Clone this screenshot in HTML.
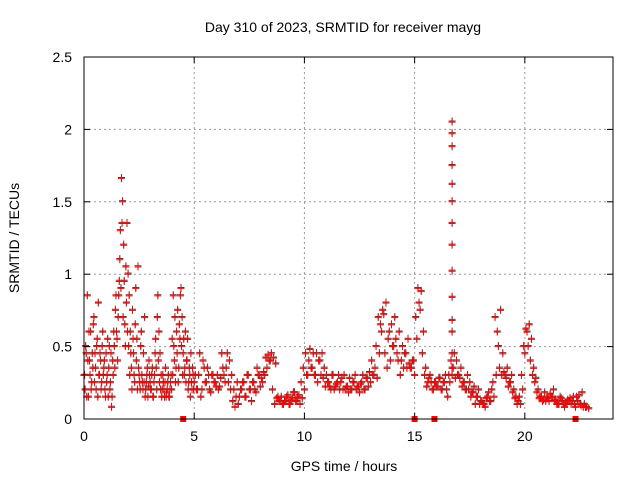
<!DOCTYPE html>
<html><head><meta charset="utf-8"><style>
body{margin:0;background:#fff}
svg text{font-family:"Liberation Sans",sans-serif;font-size:14px;fill:#000}
</style></head><body>
<svg width="640" height="480" id="c">
<rect width="640" height="480" fill="#fff"/>
<text x="343" y="32" text-anchor="middle">Day 310 of 2023, SRMTID for receiver mayg</text>
<text x="344" y="471" text-anchor="middle">GPS time / hours</text>
<text transform="translate(19,238) rotate(-90)" text-anchor="middle">SRMTID / TECUs</text>
<g id="grid"></g><g id="marks"></g>
<rect x="84" y="57" width="529" height="362" fill="none" stroke="#000" stroke-width="1"/>
<g id="ticks"></g>
</svg>
<script>
const xTicks=[0,5,10,15,20];
const yTicks=[0,0.5,1,1.5,2,2.5];
const yTickLabels=["0","0.5","1","1.5","2","2.5"];
const earlyA=[0.3,0.2,0.45,0.85,0.15,0.4,0.6,0.25,0.35,0.7,0.45,0.2,0.55,0.8,0.3,0.4,0.25,0.6,0.35,0.2,
0.45,0.3,0.15,0.5,0.25,0.08,0.4,0.6,0.35,0.85,0.55,0.7,0.95,1.3,1.66,1.5,1.2,0.65,1.05,1.35,
1.0,0.85,0.6,0.35,0.75,0.45,0.25,0.9,0.55,1.05,0.3,0.2,0.6,0.25,0.45,0.7,0.2,0.3,0.15,0.4,
0.25,0.2,0.35,0.15,0.3,0.55,0.2,0.85,0.6,0.45,0.3,0.2,0.25,0.15,0.35,0.18,0.25,0.15,0.2,0.3,
0.55,0.85,0.4,0.25,0.6,0.75,0.35,0.55,0.9,0.7,0.45,0.3,0.6,0.4,0.55,0.25,0.3,0.45,0.2,0.3,0.25];
const earlyB=[0.3,0.5,0.15,0.4,0.6,0.3,0.2,0.45,0.65,0.25,0.35,0.5,0.15,0.3,0.45,0.2,0.5,0.3,0.4,0.15,
0.25,0.55,0.35,0.2,0.45,0.15,0.3,0.5,0.75,0.6,0.4,0.85,1.1,0.9,1.35,0.7,0.95,0.5,0.8,0.6,
0.5,0.3,0.45,0.2,0.55,0.3,0.65,0.4,0.2,0.35,0.25,0.5,0.3,0.2,0.25,0.15,0.25,0.35,0.22,0.3,
0.2,0.3,0.15,0.25,0.45,0.35,0.7,0.4,0.25,0.2,0.15,0.3,0.2,0.25,0.15,0.2,0.3,0.15,0.25,0.2,
0.3,0.5,0.7,0.35,0.45,0.25,0.65,0.85,0.5,0.3,0.55,0.35,0.25,0.4,0.2,0.35,0.15,0.25,0.35,0.2];
const lateA=[0.2,0.3,0.15,0.4,0.25,0.35,0.2,0.3,0.25,0.22,
0.2,0.28,0.35,0.25,0.45,0.4,0.3,0.2,0.15,0.1,
0.2,0.25,0.15,0.3,0.2,0.12,0.25,0.18,0.3,0.22,
0.25,0.3,0.35,0.4,0.45,0.42,0.38,0.15,0.12,0.1,
0.12,0.15,0.1,0.13,0.18,0.12,0.15,0.1,0.14,0.2,
0.3,0.4,0.35,0.45,0.3,0.25,0.4,0.45,0.35,0.3,
0.25,0.2,0.3,0.22,0.25,0.2,0.28,0.3,0.22,0.18,
0.2,0.25,0.3,0.22,0.18,0.25,0.2,0.28,0.22,0.25,
0.3,0.35,0.28,0.45,0.6,0.72,0.8,0.55,0.4,0.5,
0.7,0.45,0.6,0.4,0.35,0.45,0.55,0.35,0.4,0.3,
0.55,0.8,0.88,0.6,0.35,0.25,0.3,0.2,0.25,0.22,
0.28,0.2,0.25,0.3,0.15,0.25,0.35,0.45,0.4,0.3,
0.35,0.25,0.2,0.3,0.25,0.18,0.22,0.15,0.2,0.12,
0.1,0.08,0.15,0.12,0.2,0.15,0.3,0.5,0.75,0.45,
0.3,0.35,0.25,0.3,0.2,0.15,0.12,0.1,0.2,0.45,
0.6,0.65,0.55,0.35,0.28,0.2,0.15,0.12,0.18,0.15,
0.12,0.15,0.2,0.13,0.1,0.15,0.12,0.08,0.1,0.12,
0.1,0.15,0.08,0.12,0.1,0.18,0.1,0.08,0.07];
const lateB=[0.3,0.2,0.45,0.2,0.35,0.25,0.3,0.18,0.3,0.25,
0.3,0.22,0.45,0.3,0.35,0.25,0.2,0.12,0.08,0.25,
0.15,0.2,0.25,0.15,0.3,0.2,0.25,0.2,0.35,0.3,
0.28,0.32,0.42,0.44,0.4,0.2,0.1,0.14,0.12,0.15,
0.1,0.12,0.16,0.1,0.14,0.18,0.12,0.16,0.25,0.35,
0.45,0.3,0.48,0.35,0.3,0.45,0.4,0.3,0.28,0.22,
0.25,0.22,0.3,0.2,0.24,0.3,0.25,0.2,0.2,0.22,
0.28,0.2,0.25,0.2,0.22,0.24,0.3,0.2,0.28,0.32,
0.4,0.3,0.5,0.7,0.65,0.75,0.45,0.35,0.6,0.65,
0.5,0.55,0.4,0.3,0.5,0.45,0.35,0.38,0.35,0.4,
0.7,0.9,0.75,0.45,0.3,0.22,0.28,0.25,0.2,0.25,
0.22,0.28,0.2,0.25,0.2,0.3,0.4,0.35,0.28,0.3,
0.28,0.22,0.25,0.2,0.2,0.15,0.18,0.1,0.15,0.1,
0.12,0.1,0.14,0.18,0.12,0.25,0.7,0.6,0.35,0.3,
0.32,0.28,0.22,0.25,0.18,0.14,0.1,0.15,0.3,0.5,
0.62,0.5,0.4,0.3,0.25,0.18,0.14,0.15,0.13,0.12,
0.14,0.17,0.15,0.12,0.1,0.1,0.14,0.1,0.11,0.13,
0.14,0.12,0.1,0.15,0.16,0.09,0.08,0.08];
const spikeTime=16.7;
const spikeValues=[0.3,0.45,0.6,0.68,0.84,1.02,1.2,1.35,1.5,1.62,1.75,1.88,1.97,2.05];
const flagTimes=[4.5,15.0,15.9,22.3];

const X0=84,X1=613,Y0=419,Y1=57;
const xs=t=>X0+t/24*(X1-X0);
const ys=v=>Y0-v/2.5*(Y0-Y1);
const NS="http://www.w3.org/2000/svg";
function mk(tag,attrs,parent){const e=document.createElementNS(NS,tag);for(const k in attrs)e.setAttribute(k,attrs[k]);parent.appendChild(e);return e;}
const grid=document.getElementById('grid'),ticks=document.getElementById('ticks'),marks=document.getElementById('marks');
xTicks.forEach(t=>{const x=xs(t);
 if(t>0){const g=mk('line',{x1:x,x2:x,y1:Y1,y2:Y0,stroke:'#999','stroke-dasharray':'2,3'},grid);
 
 }
 mk('line',{x1:x,x2:x,y1:Y0,y2:Y0-6,stroke:'#000'},ticks);mk('line',{x1:x,x2:x,y1:Y1,y2:Y1+6,stroke:'#000'},ticks);
 const l=mk('text',{x:x,y:Y0+22,'text-anchor':'middle'},ticks);l.textContent=t;
 
 });
yTicks.forEach((v,i)=>{const y=ys(v);
 if(v>0&&v<2.5){const g=mk('line',{x1:X0,x2:X1,y1:y,y2:y,stroke:'#999','stroke-dasharray':'2,3'},grid);
 
 }
 mk('line',{x1:X0,x2:X0+6,y1:y,y2:y,stroke:'#000'},ticks);mk('line',{x1:X1,x2:X1-6,y1:y,y2:y,stroke:'#000'},ticks);
 const l=mk('text',{x:X0-12,y:y+5,'text-anchor':'end'},ticks);l.textContent=yTickLabels[i];
 
 });
function cross(t,v,col){const x=xs(t),y=ys(v);
 const p=mk('path',{d:`M${x-3.5},${y}h7M${x},${y-3.5}v7`,stroke:col,'stroke-width':1,fill:'none'},marks);
 
 }
const pts=[];
earlyA.forEach((v,i)=>pts.push([i*0.05,v]));
earlyB.forEach((v,i)=>pts.push([0.025+i*0.05,v]));
lateA.forEach((v,i)=>pts.push([5.1+i*0.1,v]));
lateB.forEach((v,i)=>pts.push([5.05+i*0.1,v]));
spikeValues.forEach(v=>pts.push([spikeTime,v]));
pts.forEach(p=>cross(p[0],p[1]+0.008,'#444'));
pts.forEach(p=>cross(p[0],p[1],'#f00'));
flagTimes.forEach(t=>{const r=mk('rect',{x:xs(t)-3,y:Y0-3,width:6,height:6,fill:'#f00'},marks);
 
 });
</script>
</body></html>
